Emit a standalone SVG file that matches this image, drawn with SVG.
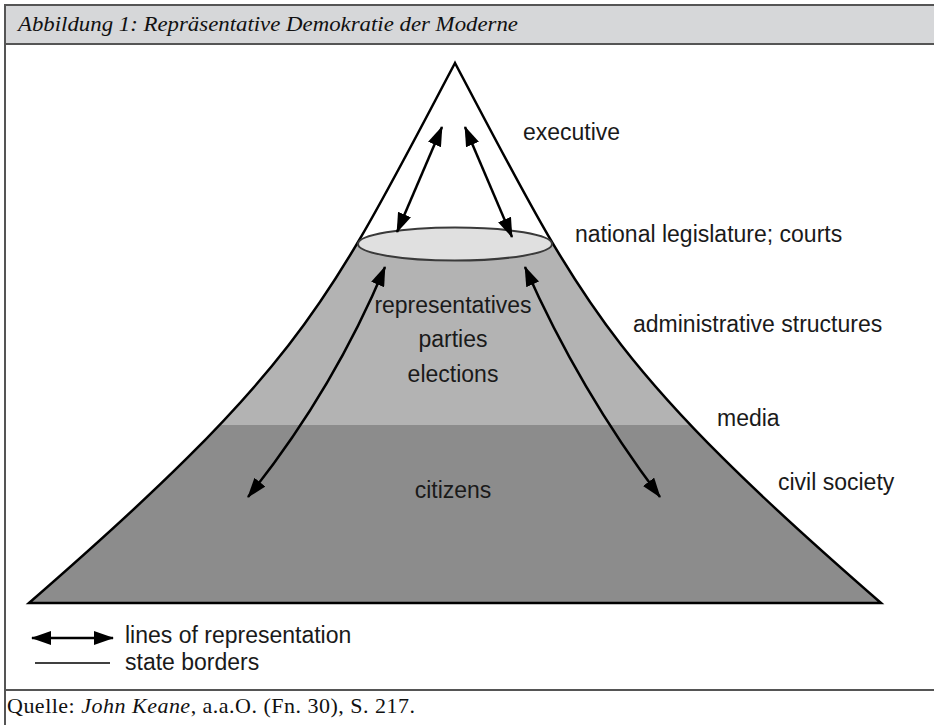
<svg xmlns="http://www.w3.org/2000/svg" width="934" height="725" viewBox="0 0 934 725">
<style>
.lbl{font-family:"Liberation Sans",Arial,sans-serif;font-size:23px;fill:#1a1a1a}
.mid{text-anchor:middle}
.ttl{font-family:"Liberation Serif","Times New Roman",serif;font-style:italic;font-size:22px;fill:#111}
.src{font-family:"Liberation Serif","Times New Roman",serif;font-size:22px;fill:#111}
.frame{stroke:#555;stroke-width:2;fill:none}
.arr{fill:none;stroke:#000;stroke-width:2.5;marker-start:url(#ah);marker-end:url(#ah)}
</style>
<defs>
<marker id="ah" viewBox="0 0 20 14" refX="19" refY="7" markerWidth="20" markerHeight="14" markerUnits="userSpaceOnUse" orient="auto-start-reverse">
<path d="M0,0 L20,7 L0,14 z" fill="#000"/>
</marker>
<clipPath id="mclip">
<path d="M29,603 C305,363 328,303 455,63 C582,303 605,363 881,603 Z"/>
</clipPath>
</defs>
<rect x="0" y="0" width="934" height="725" fill="#fff"/>
<g id="frame">
<rect x="5" y="5" width="940" height="39" fill="#d6d7d9" stroke="#555" stroke-width="2"/>
<line x1="5" y1="44" x2="5" y2="725" class="frame"/>
<line x1="5" y1="690" x2="934" y2="690" class="frame"/>
<text class="ttl" x="18" y="31" textLength="500" lengthAdjust="spacingAndGlyphs">Abbildung 1: Repräsentative Demokratie der Moderne</text>
<text class="src" x="7" y="713" textLength="408" lengthAdjust="spacing">Quelle: <tspan font-style="italic">John Keane</tspan>, a.a.O. (Fn. 30), S. 217.</text>
</g>
<g id="mountain">
<g clip-path="url(#mclip)">
<rect x="0" y="244" width="934" height="181" fill="#b3b3b3"/>
<rect x="0" y="425" width="934" height="190" fill="#8c8c8c"/>
</g>
<path d="M29,603 C305,363 328,303 455,63 C582,303 605,363 881,603 Z" fill="none" stroke="#000" stroke-width="2.5" stroke-linejoin="miter"/>
</g>
<g id="legislature">
<ellipse cx="455" cy="244" rx="97" ry="16.5" fill="#e0e0e0" stroke="#3a3a3a" stroke-width="2"/>
</g>
<g id="connectors">
<path class="arr" d="M397,232 L442,127"/>
<path class="arr" d="M512,237 L465,127"/>
<path class="arr" d="M385,267 Q332.7,391.6 248,497"/>
<path class="arr" d="M525,267 Q579.1,389.8 660,497"/>
</g>
<g id="inner-labels">
<text class="lbl mid" x="453" y="313">representatives</text>
<text class="lbl mid" x="453" y="347">parties</text>
<text class="lbl mid" x="453" y="382">elections</text>
<text class="lbl mid" x="453" y="498">citizens</text>
</g>
<g id="level-labels">
<text class="lbl" x="523" y="140">executive</text>
<text class="lbl" x="575" y="242">national legislature; courts</text>
<text class="lbl" x="633" y="332">administrative structures</text>
<text class="lbl" x="717" y="426">media</text>
<text class="lbl" x="778" y="490">civil society</text>
</g>
<g id="legend">
<path class="arr" d="M32,638 L113,638"/>
<line x1="35" y1="663" x2="110" y2="663" stroke="#000" stroke-width="1.5"/>
<text class="lbl" x="125" y="643">lines of representation</text>
<text class="lbl" x="125" y="670">state borders</text>
</g>
</svg>
